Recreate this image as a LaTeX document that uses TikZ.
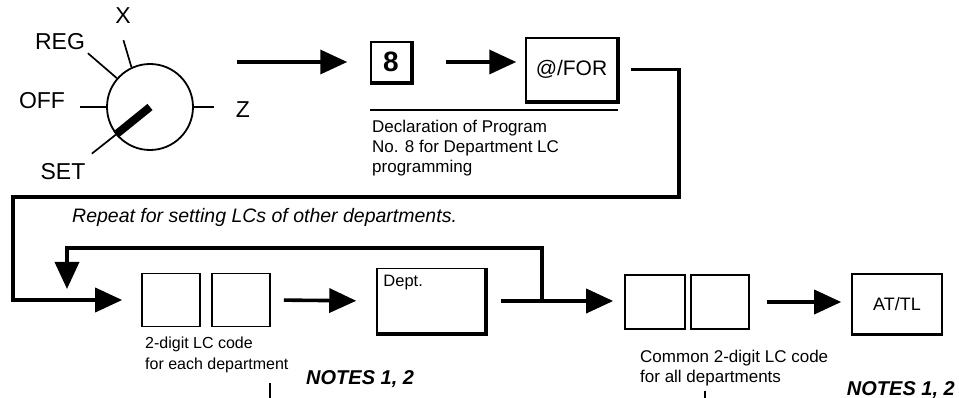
\documentclass[tikz,border=0pt]{standalone}
\usepackage{fontspec}
\setmainfont{Liberation Sans}
\usetikzlibrary{arrows.meta,calc}
\begin{document}
\begin{tikzpicture}[x=1pt,y=-1pt,
  flow/.style={line width=3.6pt,-{Triangle[length=27pt,width=24pt]}},
  tick/.style={line width=1.7pt},
  keyface/.style={draw,line width=1.5pt,inner sep=0pt},
  plainkey/.style={draw,line width=1.6pt,inner sep=0pt},
  lbl/.style={font=\fontsize{23}{26}\selectfont,inner sep=0pt},
  desc/.style={font=\fontsize{17}{20}\selectfont,align=left,inner sep=0pt},
  notes/.style={font=\fontsize{20}{20}\selectfont\bfseries\itshape,inner sep=0pt},
  shadow/.style={line width=3.8pt}]
\useasboundingbox (0,0) rectangle (959,398);

% ---- mode switch ----
\node[circle,draw,line width=1.8pt,minimum size=86pt,inner sep=0pt] (dial) at (150,107) {};
\draw[tick] (dial.west) -- ++(-26,0);
\draw[tick] (dial.east) -- ++(20,0);
\draw[tick] (dial.115) -- ++(-8,-27);
\draw[tick] (dial.139) -- ++(-29,-25);
\draw[tick] (dial.219) -- ++(-24,19);
\draw[line width=8pt] (dial.center) -- (dial.219);
\node[lbl] (lx) at (123,16) {X};
\node[lbl] (lreg) at (60,42) {REG};
\node[lbl] (loff) at (42,101) {OFF};
\node[lbl] (lz) at (243,110) {Z};
\node[lbl] (lset) at (63,172) {SET};

% ---- program declaration ----
\node[keyface,minimum width=40pt,minimum height=40pt,font=\fontsize{28}{28}\selectfont\bfseries] (k8) at (391,62) {8};
\draw[shadow] (k8.north east) -- (k8.south east) -- (k8.south west);
\node[keyface,minimum width=91pt,minimum height=63pt,font=\fontsize{21}{21}\selectfont] (kfor) at (571.5,69.5) {@/FOR};
\draw[shadow] (kfor.north east) -- (kfor.south east) -- (kfor.south west);
\coordinate (a1s) at (237,62);
\draw[flow] (a1s) -- ($(k8.west)+(-23,0)$);
\draw[flow,shorten <=34pt,shorten >=9pt] (k8.east) -- (kfor.west |- k8.east);
\coordinate (ul1) at (370,110);
\coordinate (ul2) at (618,110);
\draw[line width=1.5pt] (ul1) -- (ul2);
\node[desc,anchor=north west] (decl) at (372,120) {Declaration of Program\\No. 8 for Department LC\\programming};

% ---- row of keys ----
\node[plainkey,minimum width=58pt,minimum height=53pt] (A1) at (171,300) {};
\node[plainkey,minimum width=58pt,minimum height=53pt] (A2) at (241,300) {};
\node[keyface,minimum width=108pt,minimum height=65pt] (dept) at (431,301) {};
\draw[shadow] (dept.north east) -- (dept.south east) -- (dept.south west);
\node[font=\fontsize{16.5}{16}\selectfont,anchor=north west,inner sep=0pt] (deptlbl) at ($(dept.north west)+(7,7)$) {Dept.};
\node[plainkey,minimum width=60pt,minimum height=54pt] (B1) at (655,302) {};
\node[plainkey,minimum width=58pt,minimum height=54pt] (B2) at (720,302) {};
\node[plainkey,minimum width=90pt,minimum height=60pt,font=\fontsize{18}{18}\selectfont] (attl) at (897,304) {AT/TL};
\draw[line width=2.6pt] (attl.south west) -- (attl.south east);

% ---- connectors ----
\coordinate (o1) at (679,197);
\coordinate (o2) at (13,197);
\draw[flow,shorten <=13pt,shorten >=19pt] (kfor.east) -| (o1) -- (o2) |- (A1.west);
\draw[flow,shorten <=13pt,shorten >=20pt] (A2.east) -- (dept.west);
\draw[flow,shorten <=15pt,shorten >=11pt] (dept.east) -- (B1.west |- dept.east);
\coordinate (j) at (542,301);
\coordinate (i2) at (67,248);
\coordinate (i3) at (67,289);
\draw[flow] (j) |- (i2) -- (i3);
\draw[flow,shorten <=17pt,shorten >=10pt] (B2.east) -- (attl.west |- B2.east);

% ---- texts ----
\node[font=\fontsize{19.5}{20}\selectfont\itshape,anchor=west,inner sep=0pt] (repeat) at (72,217) {Repeat for setting LCs of other departments.};
\node[desc,font=\fontsize{16}{21}\selectfont,anchor=north west] (each) at (145,337) {2-digit LC code\\for each department};
\node[notes,anchor=west] (notes1) at (306,379) {NOTES 1, 2};
\node[desc,anchor=north west] (common) at (640,350) {Common 2-digit LC code\\for all departments};
\node[notes,anchor=east] (notes2) at (955,390) {NOTES 1, 2};
\coordinate (t1a) at (270,383);
\coordinate (t1b) at (270,398);
\draw[tick] (t1a) -- (t1b);
\coordinate (t2a) at (705,391);
\coordinate (t2b) at (705,398);
\draw[tick] (t2a) -- (t2b);
\end{tikzpicture}
\end{document}
